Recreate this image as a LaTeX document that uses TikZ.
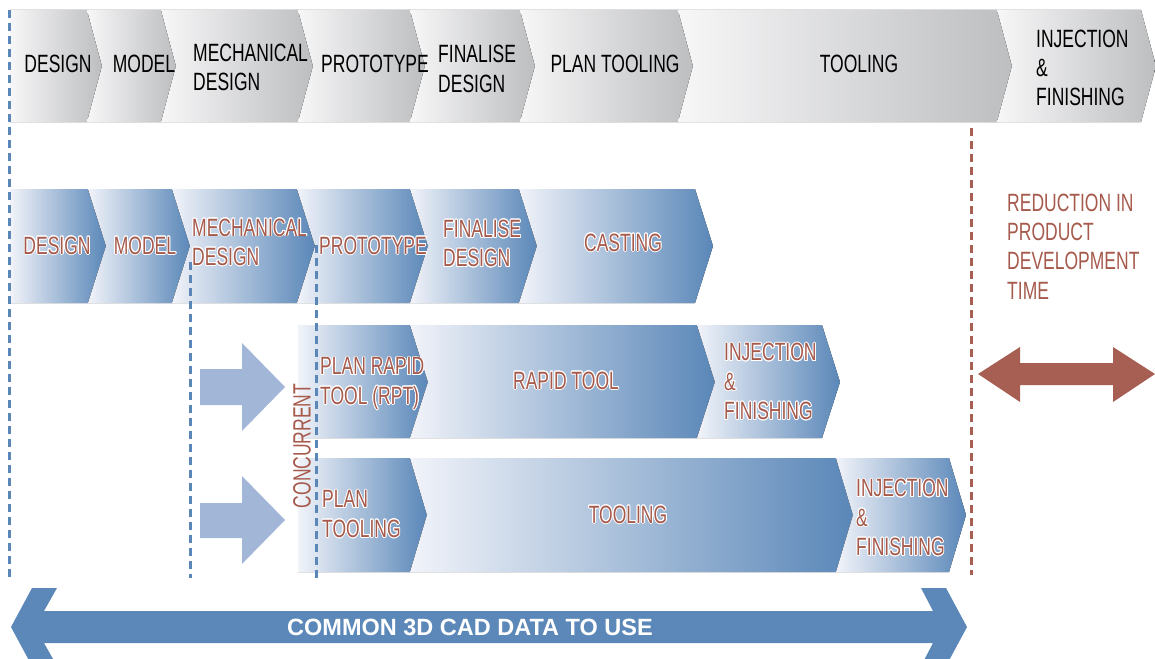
\documentclass[tikz,border=0pt]{standalone}
\usepackage{fontspec}
\setmainfont{Liberation Sans}[FakeStretch=0.7]
\newfontfamily\barfont{Liberation Sans}
\usepackage[copies]{contour}
\contourlength{0.9pt}
\contournumber{16}
\usepackage{tikz}
\usetikzlibrary{positioning}

\definecolor{gyL}{HTML}{F7F7F8}
\definecolor{gyD}{HTML}{BDBEC0}
\definecolor{bL}{HTML}{F1F3F9}
\definecolor{bD}{HTML}{5A87B8}
\definecolor{bArrow}{HTML}{A2B6D8}
\definecolor{bBar}{HTML}{5B88B8}
\definecolor{redT}{HTML}{A65A4C}
\definecolor{redA}{HTML}{A65F52}

% chevron: style, left x, corner x, top, mid, bottom, tip depth, notch depth
\newcommand{\chev}[8]{\fill[#1] (#2,#4) -- (#3,#4) -- (#3+#7,#5) -- (#3,#6) -- (#2,#6) -- (#2+#8,#5) -- cycle;}
\newcommand{\halo}[1]{\contour{white}{#1}}

\tikzset{
  grey/.style={left color=gyL, right color=gyD},
  blue/.style={left color=bL, right color=bD},
  tx/.style={font=\fontsize{25}{29.3}\selectfont, inner sep=0pt, align=left},
  rtx/.style={tx, text=redT},
  dline/.style={line width=3pt, dash pattern=on 8pt off 5pt}
}

\begin{document}
\begin{tikzpicture}[x=1pt, y=-1pt]
  \useasboundingbox (0,0) rectangle (1155,658);

  % Conventional route (top row)
  \foreach \a/\b/\n in {10/87/0, 87/161/15, 161/298/15, 298/410/15, 410/520/15, 520/678/15, 678/997/15, 997/1141/15}
    {\chev{grey}{\a}{\b}{10}{66}{122}{15}{\n}}
  \node[tx] (t1) at (58,64) {DESIGN};
  \node[tx] (t2) at (144,64) {MODEL};
  \node[tx, anchor=west] (t3) at (193,67.5) {MECHANICAL\\DESIGN};
  \node[tx] (t4) at (375,64) {PROTOTYPE};
  \node[tx, anchor=west] (t5) at (438,69) {FINALISE\\DESIGN};
  \node[tx] (t6) at (615,64) {PLAN TOOLING};
  \node[tx] (t7) at (859,64) {TOOLING};
  \node[tx, anchor=west] (t8) at (1036,68) {INJECTION\\\&\\FINISHING};

  % Rapid route (casting)
  \foreach \a/\b/\n in {10/88/0, 88/172/18, 172/297/18, 297/410/18, 410/519/18, 519/695/18}
    {\chev{blue}{\a}{\b}{189}{246}{303}{18}{\n}}
  \node[rtx] (c1) at (57,246) {\halo{DESIGN}};
  \node[rtx] (c2) at (145,246) {\halo{MODEL}};
  \node[rtx, anchor=west] (c3) at (192,242.5) {\halo{MECHANICAL}\\\halo{DESIGN}};
  \node[rtx] (c4) at (373,246) {\halo{PROTOTYPE}};
  \node[rtx, anchor=west] (c5) at (443,244) {\halo{FINALISE}\\\halo{DESIGN}};
  \node[rtx] (c6) at (623,243) {\halo{CASTING}};

  % Concurrent routes
  \foreach \a/\b/\n in {298/410/0, 410/697/18, 697/822/18}
    {\chev{blue}{\a}{\b}{325}{382}{438}{18}{\n}}
  \foreach \a/\b/\n in {298/410/0, 410/836/17, 836/949/17}
    {\chev{blue}{\a}{\b}{458}{515}{572}{17}{\n}}
  \node[rtx, anchor=west] (r1) at (320,384) {\halo{PLAN RAPID}\\\halo{TOOL (RPT)}};
  \node[rtx] (r2) at (566,381) {\halo{RAPID TOOL}};
  \node[rtx, anchor=west] (r3) at (724,382) {\halo{INJECTION}\\\halo{\&}\\\halo{FINISHING}};
  \node[rtx, anchor=west] (p1) at (322,514.5) {\halo{PLAN}\\\halo{TOOLING}};
  \node[rtx] (p2) at (628,515) {\halo{TOOLING}};
  \node[rtx, anchor=west] (p3) at (856,518) {\halo{INJECTION}\\\halo{\&}\\\halo{FINISHING}};
  \node[rtx, rotate=90] (conc) at (302,446) {CONCURRENT};

  % Block arrows into the concurrent routes
  \fill[bArrow] (200,369) -- (242,369) -- (242,343) -- (285,387) -- (242,431) -- (242,405) -- (200,405) -- cycle;
  \fill[bArrow] (200,503) -- (242,503) -- (242,476) -- (285,520) -- (242,564) -- (242,538) -- (200,538) -- cycle;

  % Dashed markers
  \draw[dline, bD] (9,10) -- (9,578);
  \draw[dline, bD] (190,262) -- (190,578);
  \draw[dline, bD] (316,245) -- (316,578);
  \draw[dline, redA] (971,128) -- (971,575);

  % Reduction in time
  \node[rtx, anchor=west] (red) at (1007,246.5) {REDUCTION IN\\PRODUCT\\DEVELOPMENT\\TIME};
  \fill[redA] (978,374) -- (1020,347) -- (1020,363) -- (1113,363) -- (1113,347) -- (1155,374) -- (1113,402) -- (1113,385) -- (1020,385) -- (1020,402) -- cycle;

  % Common CAD data
  \fill[bBar] (11,627) -- (32,588) -- (57,588) -- (44,611) -- (933,611) -- (921,588) -- (946,588) -- (967,627) -- (946,666) -- (921,666) -- (933,643) -- (44,643) -- (57,666) -- (32,666) -- cycle;
  \node[inner sep=0pt, text=white, font=\barfont\bfseries\fontsize{23.5}{26}\selectfont] (cad) at (470,627) {COMMON 3D CAD DATA TO USE};
\end{tikzpicture}
\end{document}
